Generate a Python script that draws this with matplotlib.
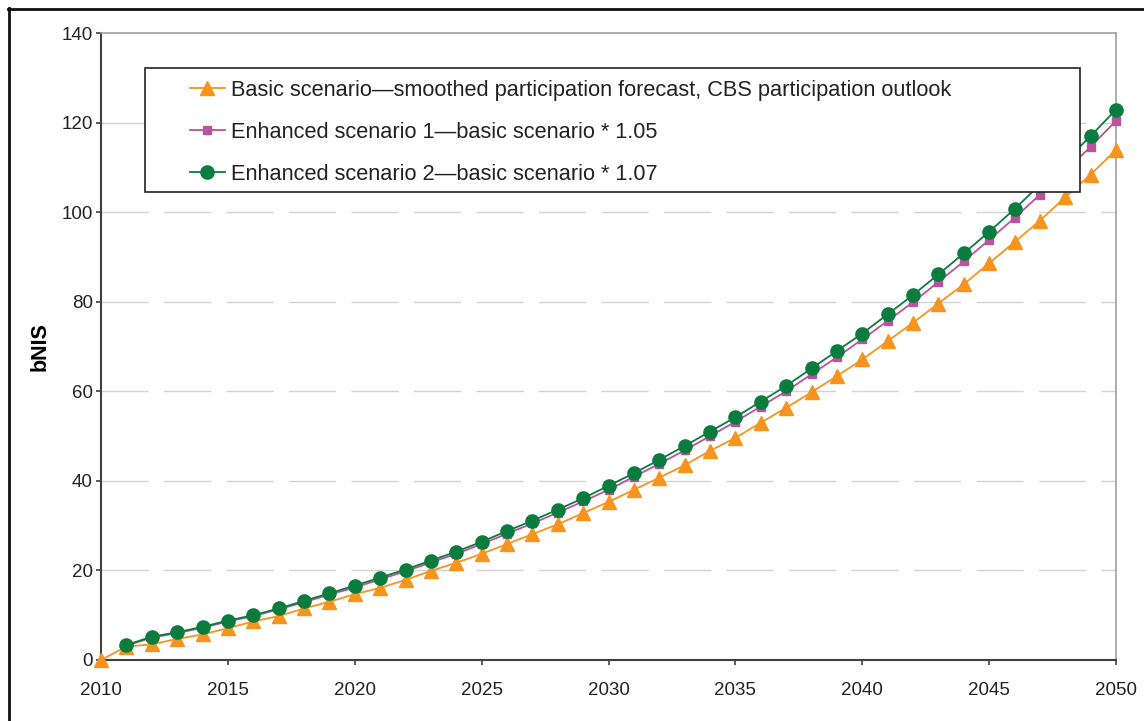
import matplotlib.pyplot as plt
from matplotlib.patches import Rectangle
from matplotlib.lines import Line2D

plt.rcParams['font.family'] = ['Liberation Sans', 'DejaVu Sans']

# --- data ---
years_basic = list(range(2010, 2051))
years_enh = list(range(2011, 2051))

basic = [0.0, 3.0, 3.5, 4.7, 5.7, 7.1, 8.6, 9.8, 11.5, 13.0, 14.7,
         16.1, 17.9, 19.9, 21.7, 23.7, 25.9, 28.1, 30.3, 32.8, 35.3,
         38.0, 40.7, 43.5, 46.7, 49.6, 53.0, 56.3, 59.8, 63.4, 67.1,
         71.2, 75.3, 79.6, 83.9, 88.6, 93.3, 98.1, 103.3, 108.4, 113.9]

enh1 = [3.2, 5.0, 6.0, 7.2, 8.6, 9.8, 11.3, 12.9, 14.6, 16.2,
        18.0, 19.8, 21.8, 23.7, 25.9, 28.2, 30.5, 32.9, 35.4, 38.0,
        40.9, 43.8, 46.8, 50.0, 53.2, 56.6, 60.0, 63.8, 67.6, 71.6,
        75.7, 79.9, 84.4, 89.0, 93.8, 98.7, 103.9, 109.2, 114.6, 120.4]

enh2 = [3.35, 5.2, 6.2, 7.4, 8.8, 10.0, 11.5, 13.2, 14.9, 16.6,
        18.4, 20.2, 22.2, 24.2, 26.4, 28.8, 31.1, 33.6, 36.1, 38.9,
        41.7, 44.7, 47.8, 51.0, 54.2, 57.7, 61.2, 65.1, 69.0, 72.9,
        77.2, 81.5, 86.1, 90.8, 95.6, 100.7, 106.1, 111.4, 117.0, 122.9]

labels = ["Basic scenario\u2014smoothed participation forecast, CBS participation outlook",
          "Enhanced scenario 1\u2014basic scenario * 1.05",
          "Enhanced scenario 2\u2014basic scenario * 1.07"]

ORANGE = '#F7941D'
PINK = '#B9529F'
GREEN = '#0A7D3E'

fig = plt.figure(figsize=(11.44, 7.21), dpi=100)
ax = fig.add_axes([101 / 1144, 61 / 721, 1015 / 1144, 627 / 721])

ax.plot(years_basic, basic, color=ORANGE, marker='^', markersize=10, linewidth=1.3,
        label=labels[0], zorder=3, clip_on=False)
ax.plot(years_enh, enh1, color=PINK, marker='s', markersize=5.5, linewidth=1.3,
        label=labels[1], zorder=4, clip_on=False)
ax.plot(years_enh, enh2, color=GREEN, marker='o', markersize=9.5, linewidth=1.3,
        label=labels[2], zorder=5, clip_on=False)

ax.set_xlim(2010, 2050)
ax.set_ylim(0, 140)
ax.set_xticks(range(2010, 2051, 5))
ax.set_yticks(range(0, 141, 20))
ax.tick_params(axis='both', direction='out', length=3.5, width=1.2, colors='#404040',
               labelcolor='#222222', labelsize=13.5)
ax.tick_params(axis='y', pad=2.5)
ax.tick_params(axis='x', pad=12)

for y in range(20, 121, 20):
    ax.axhline(y, color='#d3d3d3', linewidth=1, dashes=(34, 11), zorder=1)

for s in ['left', 'bottom']:
    ax.spines[s].set_color('#404040')
    ax.spines[s].set_linewidth(1.5)
for s in ['top', 'right']:
    ax.spines[s].set_color('#a0a0a0')
    ax.spines[s].set_linewidth(1.2)

ax.set_ylabel('bNIS', fontsize=15.5, fontweight='bold')
ax.yaxis.set_label_coords(-(101 - 51) / 1015, 0.5)

# legend box
ax.add_patch(Rectangle((44 / 1015, (660 - 192) / 627), 935 / 1015, 124 / 627,
                       transform=ax.transAxes, facecolor='white', edgecolor='#222222',
                       linewidth=1.2, zorder=6))
leg = ax.legend(loc='upper left', bbox_to_anchor=(89 / 1015, (660 - 80) / 627),
                frameon=False, fontsize=15.7, handlelength=1.6, handletextpad=0.3,
                labelspacing=0.96, borderpad=0, borderaxespad=0)
leg.set_zorder(7)
for t in leg.get_texts():
    t.set_color('#222222')

# outer frame
fig.add_artist(Line2D([8 / 1144, 1.0], [1 - 9 / 721, 1 - 9 / 721], color='#111111',
                      linewidth=2, transform=fig.transFigure))
fig.add_artist(Line2D([9 / 1144, 9 / 1144], [0.0, 1 - 8 / 721], color='#111111',
                      linewidth=2, transform=fig.transFigure))

fig.savefig('out.png', dpi=100)
